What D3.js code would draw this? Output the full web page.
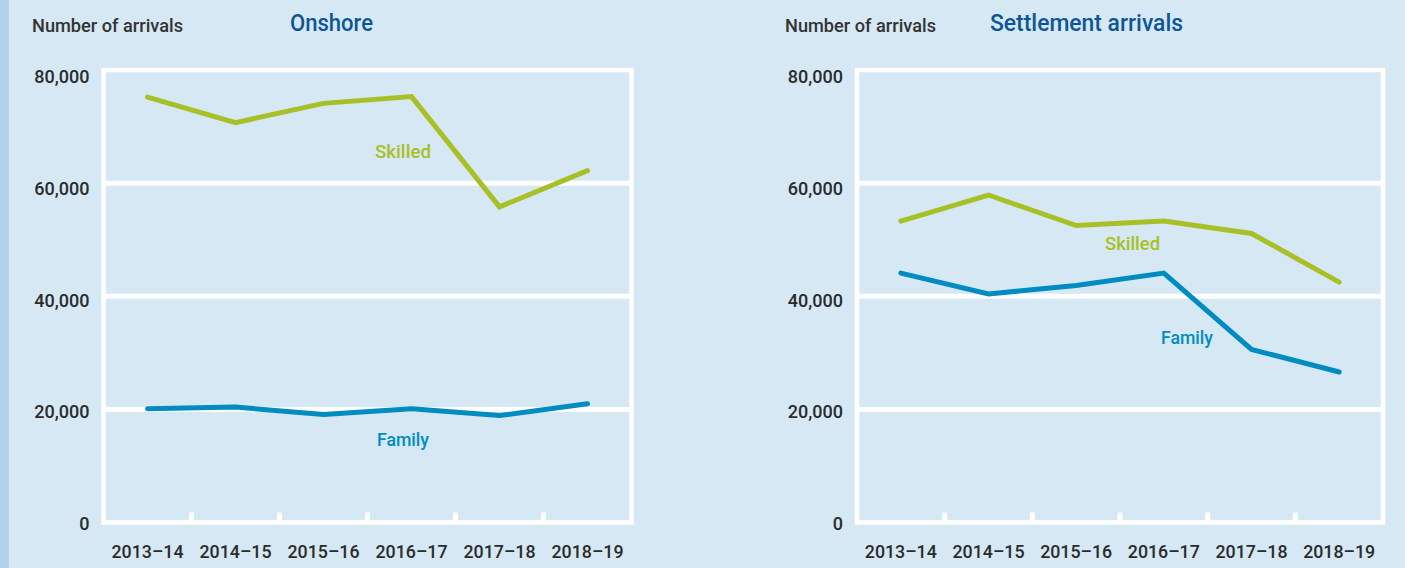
<!DOCTYPE html>
<html>
<head>
<meta charset="utf-8">
<script src="https://cdn.jsdelivr.net/npm/d3@7"></script>
<style>
  html, body { margin: 0; padding: 0; background: #d6e8f4; }
  svg { display: block; }
  text { font-family: Roboto, "Liberation Sans", Arial, sans-serif; font-weight: 500; }
</style>
</head>
<body>
<svg id="chart" width="1405" height="568"></svg>
<script>
// ---- Data ----
const categories = ["2013–14", "2014–15", "2015–16", "2016–17", "2017–18", "2018–19"];
const onshoreSkilled = [75200, 70700, 74100, 75300, 55800, 62200];
const onshoreFamily = [20100, 20400, 19100, 20100, 18900, 21000];
const settlementSkilled = [53300, 57900, 52500, 53300, 51100, 42500];
const settlementFamily = [44100, 40400, 41900, 44100, 30600, 26600];
const yTicks = [0, 20000, 40000, 60000, 80000];
const panelTitles = ["Onshore", "Settlement arrivals"];
const seriesNames = ["Skilled", "Family"];
const axisTitle = "Number of arrivals";

// ---- Layout / style ----
const W = 1405, H = 568;
const colors = { Skilled: "#a8bf26", Family: "#008cc1" };
const bg = "#d6e8f4";
const plotTop = 70, plotBottom = 522.5;

const panels = [
  { title: panelTitles[0], titleX: 290, titleLen: 83, axisX: 32,
    left: 103.5, right: 631.5,
    series: [onshoreSkilled, onshoreFamily],
    labels: [ { x: 375, y: 158, len: 56 }, { x: 377, y: 446, len: 52 } ] },
  { title: panelTitles[1], titleX: 990, titleLen: 193, axisX: 785,
    left: 857, right: 1383,
    series: [settlementSkilled, settlementFamily],
    labels: [ { x: 1105, y: 250, len: 55 }, { x: 1161, y: 344, len: 52 } ] }
];

const svg = d3.select("#chart");
svg.append("rect").attr("width", W).attr("height", H).attr("fill", bg);
svg.append("rect").attr("x", 0).attr("y", 0).attr("width", 9).attr("height", H).attr("fill", "#b2d2e9");

const y = d3.scaleLinear().domain([0, 80000]).range([plotBottom, plotTop]);
const yLab = d3.scaleLinear().domain([0, 80000]).range([plotBottom + 7.5, plotTop + 13]);
const fmt = d3.format(",");

panels.forEach(p => {
  const g = svg.append("g");
  const x = d3.scaleBand().domain(categories).range([p.left, p.right]).paddingInner(0).paddingOuter(0);
  const cx = d => x(d) + x.bandwidth() / 2;

  // gridlines (interior)
  g.selectAll("line.grid").data(yTicks.filter(t => t > 0 && t < 80000)).join("line")
    .attr("x1", p.left).attr("x2", p.right)
    .attr("y1", d => y(d)).attr("y2", d => y(d))
    .attr("stroke", "#fff").attr("stroke-width", 5);

  // frame
  g.append("rect")
    .attr("x", p.left).attr("y", y(80000))
    .attr("width", p.right - p.left).attr("height", y(0) - y(80000))
    .attr("fill", "none").attr("stroke", "#fff").attr("stroke-width", 4.5);

  // x ticks at band boundaries (pointing up)
  g.selectAll("line.xt").data(categories.slice(1)).join("line")
    .attr("x1", d => x(d)).attr("x2", d => x(d))
    .attr("y1", y(0)).attr("y2", y(0) - 10)
    .attr("stroke", "#fff").attr("stroke-width", 5);

  // y tick labels
  g.selectAll("text.yl").data(yTicks).join("text")
    .attr("x", p.left - 14).attr("y", d => yLab(d))
    .attr("text-anchor", "end").attr("font-size", 18).attr("fill", "#2b2b2b")
    .text(d => fmt(d));

  // x labels
  g.selectAll("text.xl").data(categories).join("text")
    .attr("x", d => cx(d)).attr("y", 558)
    .attr("text-anchor", "middle").attr("font-size", 18).attr("fill", "#2b2b2b")
    .attr("textLength", 72).attr("lengthAdjust", "spacingAndGlyphs")
    .text(d => d);

  // axis title
  g.append("text").attr("x", p.axisX).attr("y", 32)
    .attr("font-size", 18).attr("fill", "#333")
    .attr("textLength", 151).attr("lengthAdjust", "spacingAndGlyphs")
    .text(axisTitle);

  // panel title
  g.append("text").attr("x", p.titleX).attr("y", 31)
    .attr("font-size", 24).attr("fill", "#0d5696")
    .attr("textLength", p.titleLen).attr("lengthAdjust", "spacingAndGlyphs")
    .text(p.title);

  // lines
  const line = d3.line().x((d, i) => cx(categories[i])).y(d => y(d));
  p.series.forEach((s, si) => {
    const name = seriesNames[si];
    g.append("path").datum(s)
      .attr("d", line)
      .attr("fill", "none").attr("stroke", colors[name])
      .attr("stroke-width", 5).attr("stroke-linecap", "round").attr("stroke-linejoin", "miter");
    const lb = p.labels[si];
    g.append("text").attr("x", lb.x).attr("y", lb.y)
      .attr("font-size", 19).attr("fill", colors[name])
      .attr("textLength", lb.len).attr("lengthAdjust", "spacingAndGlyphs")
      .text(name);
  });
});
</script>
</body>
</html>
